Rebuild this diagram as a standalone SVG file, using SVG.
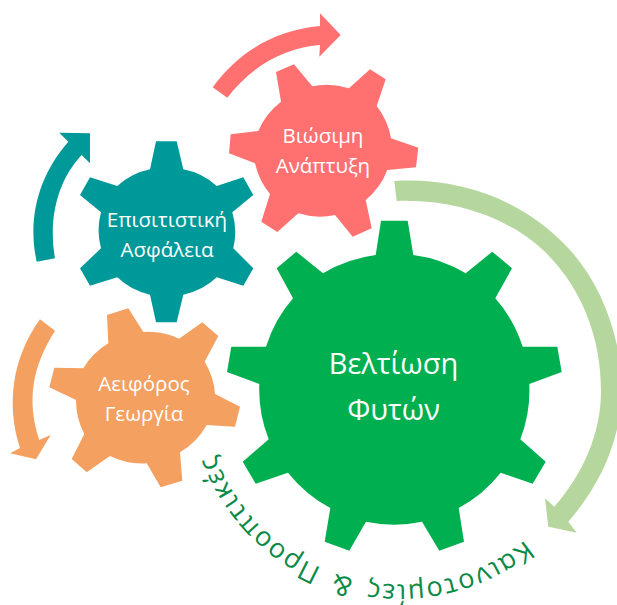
<svg xmlns="http://www.w3.org/2000/svg" width="617" height="605" viewBox="0 0 617 605">
<style>
text{font-family:"Open Sans","Noto Sans",sans-serif;fill:#fff;text-anchor:middle}
.s{font-size:20.5px}
.l{font-size:29px}
.c{fill:#0b8a45;font-size:27px;text-anchor:start;letter-spacing:1.3px;word-spacing:5px}
</style>
<defs><path id="curve" d="M525,540 A197,197 0 0 1 208,430"/></defs>
<rect width="617" height="605" fill="#fff"/>
<g id="connectors">
<path fill="#ff7171" d="M212.7,87.3 C238,52 275,30 320,26 L320,13.3 L340.7,35 L319.3,56.7 L320,45 C282,48 250,68 227.3,97.7 Z"/>
<path fill="#009999" d="M36.7,261.7 C27,218 39,175 68.3,141.7 L59.3,132.7 L90,133.3 L90,163.3 L81.7,155 C58,180 48,218 55,258.3 Z"/>
<path fill="#f4a061" d="M40,319.3 L55,330.7 C33,365 26,400 39.3,440 L50.7,435 L36,459.3 L10,453.3 L20,448 C6,405 12,358 40,319.3 Z"/>
<path fill="#b5d79e" d="M394.3,181 C460,177 525,200 570,250 C600,283 620,333 622,385 C622,440 600,485 568.3,521.7 L576.7,532.7 L548.3,526.7 L545,498.3 L554.3,506.7 C582,475 601,435 601,391 C601,335 580,285 543,250 C505,215 450,199 396.7,201 Z"/>
</g>
<g id="gear-plant">
<path fill="#00b050" d="M375.7,255 L381,220.7 L407.7,220.7 L413.3,255 A135,135 0 0 1 465.7,273.3 L492.3,251.7 L512,268.3 L495.3,298.3 A135,135 0 0 1 522.7,346.7 L557.3,346.7 L561.7,372 L529.3,384 A135,135 0 0 1 520.3,439.3 L545.7,461.7 L532.7,483.7 L500.7,472.7 A135,135 0 0 1 458.7,508 L464,541.7 L439.3,550.7 L422,521.7 A135,135 0 0 1 366,521.7 L349.3,550.7 L324.7,541.7 L330.3,508 A135,135 0 0 1 288,472.7 L255.7,483.7 L242.7,461.7 L268.7,439.3 A135,135 0 0 1 259.3,384 L227,372 L231.3,346.7 L266,346.7 A135,135 0 0 1 293,298.3 L276.7,268.3 L296.3,251.7 L323,273.3 A135,135 0 0 1 375.7,255 Z"/>
<text class="l" x="393.5" y="374">Βελτίωση</text>
<text class="l" x="393.5" y="420">Φυτών</text>
</g>
<g id="gear-sustainable-development">
<path fill="#ff7171" d="M281,101.7 L276,72 L294,64.3 L312.3,86.3 A72,72 0 0 1 349,88.3 L370,69.3 L385.7,79.3 L376.7,106 A72,72 0 0 1 391,138.3 L418.3,147.7 L416,167.3 L387.3,170 A72,72 0 0 1 365.7,200 L371.7,228.3 L352.7,236.7 L335,215 A72,72 0 0 1 298.3,213.3 L277.3,232 L261.3,221.7 L270,194 A72,72 0 0 1 255,163.3 L229,153.3 L230.7,134.3 L258.3,131 A72,72 0 0 1 281,101.7 Z"/>
<text class="s" x="323" y="143">Βιώσιμη</text>
<text class="s" x="323" y="173">Ανάπτυξη</text>
</g>
<g id="gear-food-security">
<path fill="#009999" d="M150,169.3 L156,141.3 L176.7,141.3 L183.3,169.3 A68.5,68.5 0 0 1 216.7,186 L243.3,177.3 L253.3,195 L232.3,212.3 A68.5,68.5 0 0 1 233.3,248.3 L253.3,268.3 L243.3,285.7 L216.7,277.3 A68.5,68.5 0 0 1 183.3,294.7 L176.7,322.3 L156,322.3 L150,294.7 A68.5,68.5 0 0 1 117.3,277.3 L90,285.7 L80,268.3 L101,248.3 A68.5,68.5 0 0 1 101,212.3 L80,195 L90,177.3 L117.3,186 A68.5,68.5 0 0 1 150,169.3 Z"/>
<text class="s" x="167" y="226.7">Επισιτιστική</text>
<text class="s" x="167" y="256.7">Ασφάλεια</text>
</g>
<g id="gear-sustainable-agriculture">
<path fill="#f4a061" d="M108.3,343.3 L107,315 L128.3,308.3 L143.3,332 A72,72 0 0 1 179,338.7 L202.3,322.3 L218.3,336 L204.7,361.7 A72,72 0 0 1 215,394 L240,406.7 L235,426.7 L206.7,425 A72,72 0 0 1 180,452.3 L182.3,480.7 L160.7,487.3 L146.7,463.3 A72,72 0 0 1 110,456 L86.7,472.3 L71.7,459 L84.3,434 A72,72 0 0 1 76,400 L49.3,387.3 L54.3,367.7 L83.3,368.3 A72,72 0 0 1 108.3,343.3 Z"/>
<text class="s" x="144" y="390.7">Αειφόρος</text>
<text class="s" x="144" y="421">Γεωργία</text>
</g>
<g id="curved-label">
<text class="c"><textPath href="#curve">Καινοτομίες &amp; Προοπτικές</textPath></text>
</g>
</svg>
